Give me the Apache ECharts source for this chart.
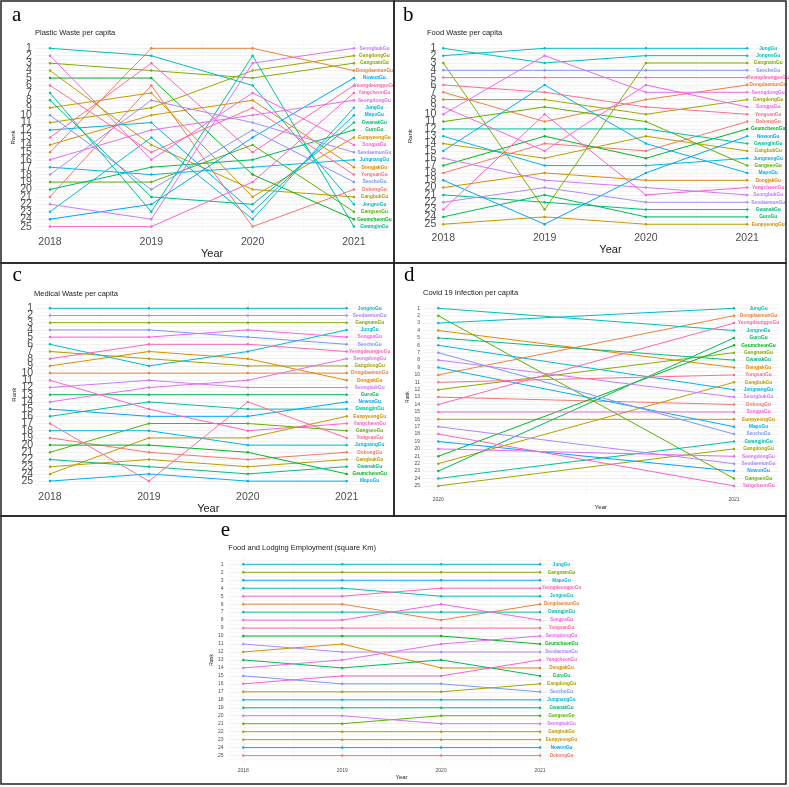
<!DOCTYPE html>
<html>
<head>
<meta charset="utf-8">
<script src="https://cdn.jsdelivr.net/npm/echarts@6.0.0/dist/echarts.min.js"></script>
<style>
html,body{margin:0;padding:0;background:#ffffff;}
#chart{width:789px;height:787px;}
</style>
</head>
<body>
<div id="chart"></div>
<script>
// ---------------- DATA ----------------
const districts = ['DobongGu','DongdaemunGu','DongjakGu','EunpyeongGu','GangbukGu','GangdongGu','GangnamGu','GangseoGu','GeumcheonGu','GuroGu','GwanakGu','GwangjinGu','JongnoGu','JungGu','JungnangGu','MapoGu','NowonGu','SeochoGu','SeodaemunGu','SeongbukGu','SeongdongGu','SongpaGu','YangcheonGu','YeongdeungpoGu','YongsanGu'];
const years = [2018, 2019, 2020, 2021];
const covidYears = [2020, 2021];
const rankTicks = [1,2,3,4,5,6,7,8,9,10,11,12,13,14,15,16,17,18,19,20,21,22,23,24,25];

// ranks in the order of `districts`
const plastic2018 = [21,15,14,9,4,11,3,19,5,20,8,7,1,23,17,12,24,10,18,22,16,2,25,13,6];
const plastic2019 = [6,1,10,7,14,9,4,19,5,17,21,23,2,13,18,11,22,20,8,24,12,16,25,3,15];
const plastic2020 = [25,1,8,21,20,4,5,14,18,16,22,2,6,24,17,23,13,12,11,3,10,7,19,15,9];
const plastic2021 = [20,4,17,13,21,2,3,23,24,12,11,25,22,9,16,10,5,19,15,1,8,14,7,6,18];

const food2018 = [18,7,20,25,14,8,3,11,17,24,21,12,1,2,13,15,19,4,22,16,10,9,23,5,6];
const food2019 = [14,11,18,24,16,8,23,9,13,21,22,12,3,1,17,6,25,4,20,19,2,15,10,5,7];
const food2020 = [15,8,19,25,13,10,3,11,16,24,23,12,2,1,17,14,18,4,22,20,7,6,21,5,9];
const food2021 = [11,6,19,25,15,8,3,17,12,24,23,14,2,1,16,18,13,4,22,21,7,9,20,5,10];

const medical2018 = [19,10,9,24,23,7,3,21,20,13,22,16,1,6,18,25,15,4,2,12,14,5,11,8,17];
const medical2019 = [21,10,7,19,22,8,3,17,20,13,23,14,1,9,18,24,16,4,2,11,12,5,15,6,25];
const medical2020 = [22,10,8,19,23,9,3,17,21,13,24,15,1,7,20,25,16,5,2,12,11,4,18,6,14];
const medical2021 = [21,10,11,16,22,9,3,18,24,13,23,15,1,4,20,25,14,6,2,12,8,5,17,7,19];

const covid2020 = [13,10,4,16,22,25,12,2,21,23,5,24,1,3,6,9,19,7,17,8,20,15,18,14,11];
const covid2021 = [14,2,9,16,11,20,7,24,6,5,8,19,4,1,12,17,23,18,22,13,21,15,25,3,10];

const employ2018 = [25,6,12,23,22,17,2,21,10,13,19,7,4,1,18,3,24,15,11,20,14,8,16,5,9];
const employ2019 = [25,6,11,23,22,17,2,21,10,14,19,7,4,1,18,3,24,16,12,20,13,8,15,5,9];
const employ2020 = [25,8,14,23,22,17,2,20,10,13,19,7,5,1,18,3,24,16,12,21,11,6,15,4,9];
const employ2021 = [25,6,14,23,22,16,2,20,11,15,19,7,5,1,18,3,24,17,12,21,10,8,13,4,9];

// ---------------- STYLE HELPERS ----------------
const SANS = '"Liberation Sans", Arial, Helvetica, sans-serif';
const SERIF = '"Liberation Serif", "Times New Roman", serif';
const MAJOR = '#ebebeb', MINOR = '#f4f4f4', NONE = 'rgba(0,0,0,0)';
const STEP = 0.05;

function hcl2hex(h, c, l) {
  const hr = h * Math.PI / 180;
  const U = c * Math.cos(hr), V = c * Math.sin(hr);
  const Xn = 95.047, Yn = 100.0, Zn = 108.883;
  const den = Xn + 15 * Yn + 3 * Zn;
  const un = 4 * Xn / den, vn = 9 * Yn / den;
  const Y = l > 8 ? Yn * Math.pow((l + 16) / 116, 3) : Yn * l / 903.3;
  const up = U / (13 * l) + un, vp = V / (13 * l) + vn;
  const X = Y * 9 * up / (4 * vp);
  const Z = Y * (12 - 3 * up - 20 * vp) / (4 * vp);
  const x = X / 100, y = Y / 100, z = Z / 100;
  const r = 3.240479 * x - 1.537150 * y - 0.498535 * z;
  const g = -0.969256 * x + 1.875992 * y + 0.041556 * z;
  const b = 0.055648 * x - 0.204043 * y + 1.057311 * z;
  const gam = v => {
    v = v <= 0.0031308 ? 12.92 * v : 1.055 * Math.pow(v, 1 / 2.4) - 0.055;
    const n = Math.round(Math.max(0, Math.min(1, v)) * 255);
    return (n < 16 ? '0' : '') + n.toString(16);
  };
  return '#' + gam(r) + gam(g) + gam(b);
}
const colors = districts.map((d, i) => hcl2hex(15 + 360 * i / districts.length, 100, 65));

function xColors(min, max) {
  const n = Math.round((max - min) / STEP) + 1;
  const arr = [];
  for (let i = 0; i < n; i++) {
    const v = min + i * STEP;
    const fr = v - Math.floor(v + 1e-9);
    if (Math.abs(v - Math.round(v)) < 1e-6) arr.push(MAJOR);
    else if (Math.abs(fr - 0.5) < 1e-6) arr.push(MINOR);
    else arr.push(NONE);
  }
  return arr;
}
function yColors() {
  const arr = [];
  for (let i = 0; i <= 52; i++) {
    const v = i * 0.5;
    if (i === 0 || i === 52) arr.push(NONE);
    else if (i % 2 === 0) arr.push(MAJOR);
    else arr.push(MINOR);
  }
  return arr;
}

const panels = [
  {letter:'a', title:'Plastic Waste per capita', xs:years, ranks:[plastic2018,plastic2019,plastic2020,plastic2021],
   x0:50, ppy:101.3, padL:0.15, padR:0.35, y1:48.3, step:7.43,
   tickFont:10.5, yearFont:11, rankFont:6, xLabelMargin:3, yLabelMargin:3, yearGap:13.4, rankGap:14.8,
   labelFont:4.8, labelDist:20.5, letterPos:[12,15], titlePos:[35,33]},
  {letter:'b', title:'Food Waste per capita', xs:years, ranks:[food2018,food2019,food2020,food2021],
   x0:443.3, ppy:101.3, padL:0.05, padR:0.35, y1:48.3, step:7.33,
   tickFont:10.5, yearFont:11, rankFont:6, xLabelMargin:1.5, yLabelMargin:2, yearGap:13, rankGap:25,
   labelFont:4.8, labelDist:21, letterPos:[403,15], titlePos:[427,33]},
  {letter:'c', title:'Medical Waste per capita', xs:years, ranks:[medical2018,medical2019,medical2020,medical2021],
   x0:50, ppy:98.9, padL:0.15, padR:0.35, y1:308.3, step:7.2,
   tickFont:10.5, yearFont:11, rankFont:6, xLabelMargin:3.4, yLabelMargin:2, yearGap:13.2, rankGap:16.2,
   labelFont:4.8, labelDist:23, letterPos:[12.5,275], titlePos:[34,294]},
  {letter:'d', title:'Covid 19 Infection per capita', xs:covidYears, ranks:[covid2020,covid2021],
   x0:438.3, ppy:295.7, padL:0.05, padR:0.15, y1:308.3, step:7.4,
   tickFont:5, yearFont:6, rankFont:5, xLabelMargin:4, yLabelMargin:3.5, yearGap:10.7, rankGap:11,
   labelFont:4.8, labelDist:24.5, letterPos:[404,275], titlePos:[423,293.3]},
  {letter:'e', title:'Food and Lodging Employment (square Km)', xs:years, ranks:[employ2018,employ2019,employ2020,employ2021],
   x0:243.3, ppy:98.9, padL:0.15, padR:0.35, y1:564.3, step:7.97,
   tickFont:5, yearFont:6, rankFont:5, xLabelMargin:5, yLabelMargin:5, yearGap:10.5, rankGap:12.7,
   labelFont:4.6, labelDist:21.5, letterPos:[220.7,530], titlePos:[228.3,548.3]}
];

const grids = [], xAxes = [], yAxes = [], series = [], graphics = [];

panels.forEach((p, pi) => {
  const xMin = +(p.xs[0] - p.padL).toFixed(2);
  const xMax = +(p.xs[p.xs.length - 1] + p.padR).toFixed(2);
  const left = p.x0 - p.padL * p.ppy;
  const width = (xMax - xMin) * p.ppy;
  const top = p.y1 - p.step;
  const height = 26 * p.step;
  grids.push({left: left, top: top, width: width, height: height, containLabel: false, outerBoundsMode: 'none'});
  xAxes.push({
    gridIndex: pi, type: 'value', min: xMin, max: xMax, interval: STEP,
    axisLine: {show: false}, axisTick: {show: false},
    axisLabel: {
      formatter: function (v) {
        const r = Math.round(v);
        return (Math.abs(v - r) < 1e-6 && p.xs.indexOf(r) >= 0) ? String(r) : '';
      },
      fontSize: p.tickFont, color: '#4d4d4d', margin: p.xLabelMargin, fontFamily: SANS
    },
    splitLine: {show: true, lineStyle: {color: xColors(xMin, xMax), width: 0.7}},
    name: 'Year', nameLocation: 'middle', nameGap: p.yearGap,
    nameTextStyle: {fontSize: p.yearFont, color: '#222', fontFamily: SANS}
  });
  yAxes.push({
    gridIndex: pi, type: 'value', inverse: true, min: 0, max: 26, interval: 0.5,
    axisLine: {show: false}, axisTick: {show: false},
    axisLabel: {
      formatter: function (v) {
        const r = Math.round(v);
        return (Math.abs(v - r) < 1e-6 && rankTicks.indexOf(r) >= 0) ? String(r) : '';
      },
      fontSize: p.tickFont, color: '#4d4d4d', margin: p.yLabelMargin, fontFamily: SANS
    },
    splitLine: {show: true, lineStyle: {color: yColors(), width: 0.7}},
    name: 'Rank', nameLocation: 'middle', nameRotate: 90, nameGap: p.rankGap,
    nameTextStyle: {fontSize: p.rankFont, color: '#222', fontFamily: SANS}
  });
  districts.forEach((d, di) => {
    series.push({
      type: 'line', name: d, xAxisIndex: pi, yAxisIndex: pi,
      data: p.xs.map((yr, k) => [yr, p.ranks[k][di]]),
      color: colors[di],
      lineStyle: {width: 1, color: colors[di]},
      itemStyle: {color: colors[di]},
      symbol: 'circle', symbolSize: 2.5, showSymbol: true,
      silent: true, animation: false, clip: false,
      emphasis: {disabled: true},
      endLabel: {
        show: true, formatter: '{a}', color: colors[di], fontSize: p.labelFont,
        fontWeight: 'bold', fontFamily: SANS, align: 'center', distance: p.labelDist
      }
    });
  });
  graphics.push({
    type: 'text', x: p.letterPos[0], y: p.letterPos[1], silent: true, z: 100,
    style: {text: p.letter, font: '21px ' + SERIF, fill: '#000', align: 'left', verticalAlign: 'middle', textAlign: 'left', textVerticalAlign: 'middle'}
  });
  graphics.push({
    type: 'text', x: p.titlePos[0], y: p.titlePos[1], silent: true, z: 100,
    style: {text: p.title, font: '7.5px ' + SANS, fill: '#1a1a1a', align: 'left', verticalAlign: 'middle', textAlign: 'left', textVerticalAlign: 'middle'}
  });
});

// panel frames
const frames = [[1,1,393,262],[394,1,392,262],[1,263,393,253],[394,263,392,253],[1,516,785,268]];
frames.forEach(f => {
  graphics.push({type: 'rect', silent: true, z: 120, shape: {x: f[0], y: f[1], width: f[2], height: f[3]},
    style: {fill: 'none', stroke: '#222', lineWidth: 1.5}});
});

const option = {
  backgroundColor: '#ffffff',
  animation: false,
  grid: grids,
  xAxis: xAxes,
  yAxis: yAxes,
  series: series,
  graphic: {elements: graphics}
};

const chart = echarts.init(document.getElementById('chart'), null, {renderer: 'canvas'});
chart.setOption(option);
</script>
</body>
</html>
